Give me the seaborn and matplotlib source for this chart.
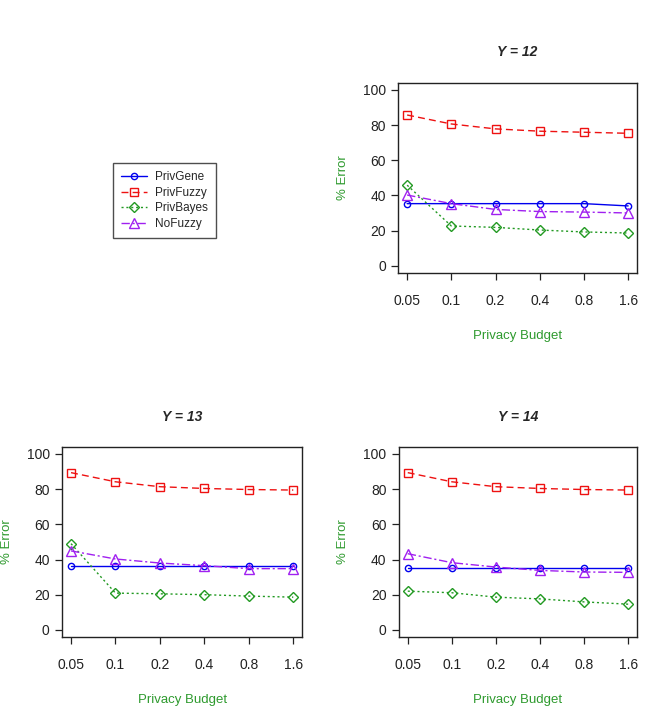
import pandas as pd
import seaborn as sns
import matplotlib.pyplot as plt

# Data
budgets = ["0.05", "0.1", "0.2", "0.4", "0.8", "1.6"]
methods = ["PrivGene", "PrivFuzzy", "PrivBayes", "NoFuzzy"]

y12_privgene = [35.3, 35.3, 35.3, 35.3, 35.3, 34.0]
y12_privfuzzy = [85.7, 80.6, 77.8, 76.5, 75.9, 75.3]
y12_privbayes = [45.8, 22.6, 21.8, 20.3, 19.2, 18.6]
y12_nofuzzy = [40.2, 35.3, 32.0, 30.8, 30.5, 30.0]

y13_privgene = [36.1, 36.1, 36.1, 36.1, 36.1, 36.1]
y13_privfuzzy = [89.4, 84.2, 81.4, 80.4, 79.8, 79.5]
y13_privbayes = [49.0, 20.9, 20.5, 20.0, 19.2, 18.6]
y13_nofuzzy = [44.9, 40.3, 38.0, 36.5, 34.8, 34.8]

y14_privgene = [35.4, 35.4, 35.4, 35.4, 35.4, 35.4]
y14_privfuzzy = [89.4, 84.2, 81.4, 80.4, 79.8, 79.5]
y14_privbayes = [22.0, 21.1, 18.6, 17.6, 15.9, 14.6]
y14_nofuzzy = [43.3, 38.2, 35.7, 33.8, 32.9, 32.7]

panels = {
    "Y = 12": [y12_privgene, y12_privfuzzy, y12_privbayes, y12_nofuzzy],
    "Y = 13": [y13_privgene, y13_privfuzzy, y13_privbayes, y13_nofuzzy],
    "Y = 14": [y14_privgene, y14_privfuzzy, y14_privbayes, y14_nofuzzy],
}

colors = ["#0000ee", "#ee1111", "#229922", "#a020f0"]
markers = ["o", "s", "D", "^"]
msizes = [4.5, 5.5, 5, 6.5]
linestyles = ["-", (0, (5, 3)), (0, (1.5, 2)), (0, (6, 2, 1.5, 2))]

sns.set_style("ticks")
plt.rcParams["font.family"] = ["Liberation Sans", "DejaVu Sans"]

label_green = "#2e9a2e"

fig = plt.figure(figsize=(6.54, 7.14), dpi=100)
positions = {
    "Y = 12": [0.609, 0.618, 0.365, 0.266],
    "Y = 13": [0.095, 0.108, 0.367, 0.266],
    "Y = 14": [0.610, 0.108, 0.364, 0.266],
}

handles = None
for title, series in panels.items():
    ax = fig.add_axes(positions[title])
    for i, name in enumerate(methods):
        df = pd.DataFrame({"x": range(len(budgets)), "err": series[i]})
        sns.lineplot(data=df, x="x", y="err", ax=ax, color=colors[i],
                     linestyle=linestyles[i], linewidth=1.0,
                     marker=markers[i], markersize=msizes[i],
                     markerfacecolor="none", markeredgecolor=colors[i],
                     markeredgewidth=1.0, label=name)
    ax.set_xlim(-0.2, 5.2)
    ax.set_ylim(-4, 104)
    ax.set_xticks(range(len(budgets)))
    ax.set_xticklabels(budgets)
    ax.set_yticks([0, 20, 40, 60, 80, 100])
    ax.tick_params(axis="both", labelsize=10, colors="#222222", length=5,
                   width=0.9, pad=10)
    ax.tick_params(axis="y", pad=4)
    for s in ax.spines.values():
        s.set_color("#222222")
        s.set_linewidth(1.0)
    ax.set_xlabel("Privacy Budget", color=label_green, fontsize=9.5, labelpad=16)
    ax.set_ylabel("% Error", color=label_green, fontsize=9.5, labelpad=10)
    ax.set_title(title, fontsize=10, fontweight="bold", style="italic",
                 pad=19)
    handles, labels = ax.get_legend_handles_labels()
    ax.get_legend().remove()

leg = fig.legend(handles, methods, loc="upper left",
                 bbox_to_anchor=(0.163, 0.780), fontsize=8.5,
                 frameon=True, fancybox=False, borderpad=0.7,
                 handlelength=2.2, handletextpad=0.7, labelspacing=0.3)
leg.get_frame().set_edgecolor("#222222")
leg.get_frame().set_linewidth(1.0)

fig.savefig("out.png", dpi=100)
